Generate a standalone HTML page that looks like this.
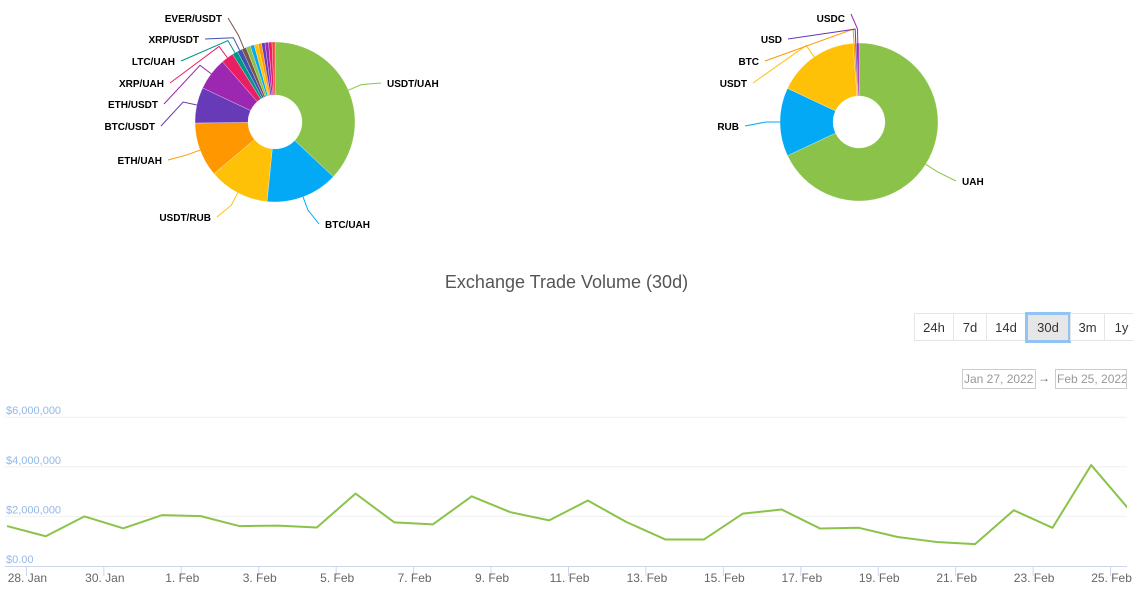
<!DOCTYPE html>
<html><head><meta charset="utf-8">
<style>
body{margin:0;background:#fff;font-family:"Liberation Sans",sans-serif;}
#root{position:relative;width:1133px;height:601px;overflow:hidden;}
.btn{position:absolute;top:313px;height:28px;border:1px solid #e6e6e6;background:#fff;font:13px "Liberation Sans",sans-serif;color:#333;display:flex;align-items:center;justify-content:center;box-sizing:border-box;}
.btn.active{background:#e6e6e6;border:3px solid #90c4f5;}
.date{position:absolute;top:369px;height:20px;border:1px solid #ccc;font:12px "Liberation Sans",sans-serif;color:#999;box-sizing:border-box;display:flex;align-items:center;padding-left:1px;white-space:nowrap;overflow:hidden;}
</style></head><body>
<div id="root">
<svg id="pies" width="1133" height="250" style="position:absolute;left:0;top:0"></svg>
<div style="position:absolute;left:0;width:1133px;top:272px;text-align:center;font-size:18px;color:#555;">Exchange Trade Volume (30d)</div>
<div class="btn" style="left:914px;width:40px">24h</div>
<div class="btn" style="left:953px;width:34px">7d</div>
<div class="btn" style="left:986px;width:40px">14d</div>
<div class="btn active" style="left:1025px;width:46px;top:312px;height:31px">30d</div>
<div class="btn" style="left:1070px;width:35px">3m</div>
<div class="btn" style="left:1104px;width:35px">1y</div>
<div class="date" style="left:962px;width:74px">Jan 27, 2022</div>
<div style="position:absolute;left:1038px;top:371px;font-size:12px;color:#666">→</div>
<div class="date" style="left:1055px;width:72px">Feb 25, 2022</div>
<svg id="line" width="1133" height="601" style="position:absolute;left:0;top:0;pointer-events:none"></svg>
</div>
<script>
const pair1Names=["USDT/UAH","BTC/UAH","USDT/RUB","ETH/UAH","BTC/USDT","ETH/USDT","XRP/UAH","LTC/UAH","XRP/USDT","EVER/USDT","p11","p12","p13","p14","p15","p16","p17","p18"];
const pair1Values=[37,14.6,12.2,11,7.2,6.6,2.5,1.1,1.0,0.9,0.9,0.8,0.8,0.7,0.7,0.7,0.7,0.6];
const cur2Names=["UAH","RUB","USDT","BTC","USD","USDC"];
const cur2Values=[68,14,16.8,0.4,0.3,0.5];
const volDates=[];for(let i=0;i<30;i++)volDates.push(i+0.5);
const volValues=[1.61,1.2,2.0,1.52,2.05,2.01,1.61,1.63,1.55,2.92,1.76,1.68,2.81,2.17,1.84,2.64,1.77,1.07,1.07,2.11,2.28,1.51,1.54,1.17,0.97,0.88,2.25,1.54,4.07,2.24];
const yTicks=[0,2,4,6];
const yTickLabels=["$0.00","$2,000,000","$4,000,000","$6,000,000"];
const xTickDays=[1,3,5,7,9,11,13,15,17,19,21,23,25,27,29];
const xTickLabels=["28. Jan","30. Jan","1. Feb","3. Feb","5. Feb","7. Feb","9. Feb","11. Feb","13. Feb","15. Feb","17. Feb","19. Feb","21. Feb","23. Feb","25. Feb"];

const colors=["#8bc34a","#03a9f4","#ffc107","#ff9800","#673ab7","#9c27b0","#e91e63","#009688","#3f51b5","#795548","#8bc34a","#03a9f4","#ffc107","#ff9800","#673ab7","#9c27b0","#e91e63","#f44336"];
const NS="http://www.w3.org/2000/svg";
function mk(p,t,a){const e=document.createElementNS(NS,t);for(const k in a)e.setAttribute(k,a[k]);p.appendChild(e);return e;}
const pies=document.getElementById('pies');
const lay1={"USDT/UAH":[387,87,"start"],"BTC/UAH":[325,228,"start"],"USDT/RUB":[211,221,"end"],"ETH/UAH":[162,164,"end"],"BTC/USDT":[155,130,"end"],"ETH/USDT":[158,108,"end"],"XRP/UAH":[164,87,"end"],"LTC/UAH":[175,65,"end"],"XRP/USDT":[199,43,"end"],"EVER/USDT":[222,22,"end"]};
const lay2={"UAH":[962,185,"start"],"RUB":[739,130,"end"],"USDT":[747,87,"end"],"BTC":[759,65,"end"],"USD":[782,43,"end"],"USDC":[845,22,"end"]};
function pie(cx,cy,r,ri,names,vals,lay,nm){
  const tot=vals.reduce((a,b)=>a+b,0);let a0=0;
  const g=mk(pies,'g',{});
  
  
  vals.forEach((v,i)=>{
    const a1=a0+v/tot*2*Math.PI;
    const pt=(a,rr)=>[cx+rr*Math.sin(a),cy-rr*Math.cos(a)];
    const [x0,y0]=pt(a0,r),[x1,y1]=pt(a1,r),[x2,y2]=pt(a1,ri),[x3,y3]=pt(a0,ri);
    const lg=(a1-a0)>Math.PI?1:0;
    const s=mk(g,'path',{d:`M${x0},${y0}A${r},${r} 0 ${lg} 1 ${x1},${y1}L${x2},${y2}A${ri},${ri} 0 ${lg} 0 ${x3},${y3}Z`,fill:colors[i],stroke:'#fff','stroke-width':0.3});
    
    
    const L=lay[names[i]];
    if(L){
      const am=(a0+a1)/2;const [ex,ey]=pt(am,r);const [bx,by]=pt(am,r+14);
      let lx=L[2]=="start"?L[0]-6:L[0]+6;let ly=L[1]-4;
      if(names[i]=="USDC"){lx=L[0]+6;ly=L[1]-8;}
      const c=mk(g,'path',{d:`M${ex},${ey}L${bx},${by}L${lx},${ly}`,fill:'none',stroke:colors[i],'stroke-width':1});
      
      
      const t=mk(g,'text',{x:L[0],y:L[1],'text-anchor':L[2],'font-size':10,'font-weight':'bold',fill:'#000','font-family':'Liberation Sans, sans-serif'});
      t.textContent=names[i];
      
      
    }
    a0=a1;
  });
}
pie(275,122,80,27,pair1Names,pair1Values,lay1,'pair-volume-pie');
pie(859,122,79,26,cur2Names,cur2Values,lay2,'currency-volume-pie');

const ls=document.getElementById('line');
const X=d=>26.4+(d-1)*38.72;
const Y=v=>566-v*24.8;
const cp=mk(ls,'clipPath',{id:'cp'});mk(cp,'rect',{x:5,y:400,width:1122,height:170});
yTicks.forEach((v,i)=>{
  if(v>0){const gl=mk(ls,'line',{x1:5,x2:1127,y1:Y(v),y2:Y(v),stroke:'#f0f0f0','stroke-width':1});
  
  }
  const t=mk(ls,'text',{x:6,y:Y(v)-3,'font-size':11,fill:'#92b8ea','font-family':'Liberation Sans, sans-serif'});
  t.textContent=yTickLabels[i];
  
  
});
const ax=mk(ls,'line',{x1:5,x2:1127,y1:566.5,y2:566.5,stroke:'#ccd6eb','stroke-width':1});


xTickDays.forEach((d,i)=>{
  const tk=mk(ls,'line',{x1:X(d),x2:X(d),y1:566,y2:576,stroke:'#ccd6eb'});
  
  
  const t=mk(ls,'text',{x:X(d)+1,y:582,'text-anchor':'middle','font-size':12,fill:'#666','font-family':'Liberation Sans, sans-serif'});
  t.textContent=xTickLabels[i];
  
  
});
const pts=volDates.map((d,i)=>X(d)+','+Y(volValues[i])).join(' ');
const pl=mk(ls,'polyline',{points:pts,fill:'none',stroke:'#8bc34a','stroke-width':2,'clip-path':'url(#cp)','stroke-linejoin':'round'});


</script>
</body></html>
